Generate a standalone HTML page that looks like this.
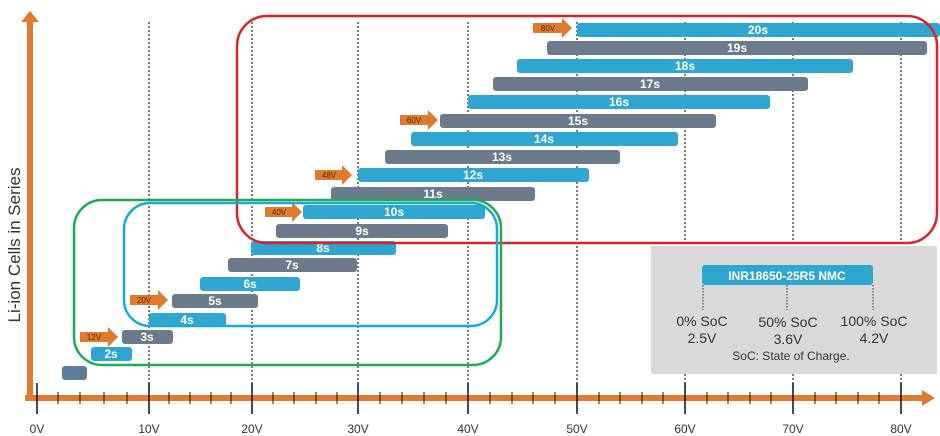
<!DOCTYPE html>
<html><head><style>body{margin:0;background:#fff}svg{display:block}</style></head>
<body>
<svg width="940" height="436" viewBox="0 0 940 436" xmlns="http://www.w3.org/2000/svg" font-family="Liberation Sans, sans-serif">
<g stroke="#222" stroke-width="1.2" stroke-dasharray="2,2">
<line x1="149" y1="22" x2="149" y2="392"/><line x1="252" y1="22" x2="252" y2="392"/>
<line x1="358" y1="22" x2="358" y2="392"/><line x1="468" y1="22" x2="468" y2="392"/>
<line x1="577" y1="22" x2="577" y2="392"/><line x1="685" y1="22" x2="685" y2="392"/>
<line x1="793" y1="22" x2="793" y2="392"/><line x1="901" y1="22" x2="901" y2="392"/>
</g>
<rect x="651" y="246" width="286" height="128" fill="#d9d9d9"/>
<g font-weight="bold" font-size="12" fill="#fff" text-anchor="middle">
<rect x="62" y="366" width="25" height="14" rx="3" fill="#5b7f99"/>
<rect x="91" y="347" width="41" height="14" rx="3" fill="#2ea6cf"/><text x="111" y="358">2s</text>
<rect x="122" y="330" width="51" height="14" rx="3" fill="#6c7b8b"/><text x="147" y="341">3s</text>
<rect x="149" y="313" width="77" height="14" rx="3" fill="#2ea6cf"/><text x="187" y="324">4s</text>
<rect x="172" y="294" width="86" height="14" rx="3" fill="#6c7b8b"/><text x="215" y="305">5s</text>
<rect x="200" y="277" width="100" height="14" rx="3" fill="#2ea6cf"/><text x="250" y="288">6s</text>
<rect x="228" y="258" width="129" height="14" rx="3" fill="#6c7b8b"/><text x="292" y="269">7s</text>
<rect x="251" y="241" width="145" height="14" rx="3" fill="#2ea6cf"/><text x="323" y="252">8s</text>
<rect x="276" y="224" width="172" height="14" rx="3" fill="#6c7b8b"/><text x="362" y="235">9s</text>
<rect x="303" y="205" width="182" height="14" rx="3" fill="#2ea6cf"/><text x="394" y="216">10s</text>
<rect x="331" y="187" width="204" height="14" rx="3" fill="#6c7b8b"/><text x="433" y="198">11s</text>
<rect x="358" y="168" width="231" height="14" rx="3" fill="#2ea6cf"/><text x="473" y="179">12s</text>
<rect x="385" y="150" width="235" height="14" rx="3" fill="#6c7b8b"/><text x="502" y="161">13s</text>
<rect x="411" y="132" width="267" height="14" rx="3" fill="#2ea6cf"/><text x="544" y="143">14s</text>
<rect x="440" y="114" width="276" height="14" rx="3" fill="#6c7b8b"/><text x="578" y="125">15s</text>
<rect x="468" y="95" width="302" height="14" rx="3" fill="#2ea6cf"/><text x="619" y="106">16s</text>
<rect x="493" y="77" width="315" height="14" rx="3" fill="#6c7b8b"/><text x="650" y="88">17s</text>
<rect x="517" y="59" width="336" height="14" rx="3" fill="#2ea6cf"/><text x="685" y="70">18s</text>
<rect x="547" y="41" width="380" height="14" rx="3" fill="#6c7b8b"/><text x="737" y="52">19s</text>
<rect x="577" y="23" width="363" height="14" rx="3" fill="#2ea6cf"/><text x="758" y="34">20s</text>
</g>
<g fill="#e07a2e" font-size="8" text-anchor="middle">
<path d="M80,332h28v-5l10,10l-10,10v-5h-28z"/><text x="94" y="340" fill="#5a2a00">12V</text>
<path d="M130,295h28v-5l10,10l-10,10v-5h-28z"/><text x="144" y="303" fill="#5a2a00">20V</text>
<path d="M265,207h27v-5l10,10l-10,10v-5h-27z"/><text x="279" y="215" fill="#5a2a00">40V</text>
<path d="M315,170h27v-5l10,10l-10,10v-5h-27z"/><text x="329" y="178" fill="#5a2a00">48V</text>
<path d="M400,115h28v-5l10,10l-10,10v-5h-28z"/><text x="414" y="123" fill="#5a2a00">60V</text>
<path d="M533,23h29v-5l10,10l-10,10v-5h-29z"/><text x="548" y="31" fill="#5a2a00">80V</text>
</g>
<rect x="237" y="16" width="700" height="227" rx="30" fill="none" stroke="#d9232e" stroke-width="2.5"/>
<rect x="74" y="200" width="427" height="165" rx="28" fill="none" stroke="#1faa55" stroke-width="2.5"/>
<rect x="124" y="203" width="373" height="123" rx="26" fill="none" stroke="#1aa8d6" stroke-width="2.5"/>
<rect x="702" y="265" width="171" height="20" rx="3" fill="#2ea6cf"/>
<text x="787" y="280" font-size="12" font-weight="bold" fill="#fff" text-anchor="middle">INR18650-25R5 NMC</text>
<g stroke="#333" stroke-width="1" stroke-dasharray="1.5,1.5"><line x1="703" y1="285" x2="703" y2="310"/><line x1="787" y1="285" x2="787" y2="310"/><line x1="873" y1="285" x2="873" y2="310"/></g>
<g font-size="14" fill="#333" text-anchor="middle">
<text x="702" y="326">0% SoC</text><text x="702" y="343">2.5V</text>
<text x="788" y="327">50% SoC</text><text x="788" y="344">3.6V</text>
<text x="874" y="326">100% SoC</text><text x="874" y="343">4.2V</text>
<text x="791" y="360" font-size="12">SoC: State of Charge.</text>
</g>
<rect x="27" y="20" width="6" height="381" fill="#e07a2e"/>
<path d="M21,22L30,11L39,22z" fill="#e07a2e"/>
<rect x="25" y="395" width="900" height="6" fill="#e07a2e"/>
<path d="M922,390L935,398L922,406z" fill="#e07a2e"/>
<g stroke="#111" stroke-width="1.5">
<line x1="37" y1="383" x2="37" y2="414"/><line x1="149" y1="383" x2="149" y2="414"/><line x1="252" y1="383" x2="252" y2="414"/><line x1="358" y1="383" x2="358" y2="414"/><line x1="468" y1="383" x2="468" y2="414"/><line x1="577" y1="383" x2="577" y2="414"/><line x1="685" y1="383" x2="685" y2="414"/><line x1="793" y1="383" x2="793" y2="414"/><line x1="901" y1="383" x2="901" y2="414"/>
</g>
<g stroke="#111" stroke-width="1">
<path d="M58,392v12M80,392v12M104,392v12M127,392v12M169,392v12M190,392v12M211,392v12M231,392v12M273,392v12M294,392v12M316,392v12M337,392v12M380,392v12M402,392v12M424,392v12M446,392v12M490,392v12M512,392v12M533,392v12M555,392v12M599,392v12M620,392v12M642,392v12M663,392v12M707,392v12M728,392v12M750,392v12M771,392v12M815,392v12M836,392v12M858,392v12M879,392v12"/>
</g>
<g font-size="12" fill="#333" text-anchor="middle">
<text x="37" y="433">0V</text><text x="149" y="433">10V</text><text x="252" y="433">20V</text><text x="358" y="433">30V</text><text x="468" y="433">40V</text><text x="577" y="433">50V</text><text x="685" y="433">60V</text><text x="793" y="433">70V</text><text x="901" y="433">80V</text>
</g>
<text transform="translate(20,245) rotate(-90)" font-size="17" fill="#333" text-anchor="middle">Li-ion Cells in Series</text>
</svg>
</body></html>
